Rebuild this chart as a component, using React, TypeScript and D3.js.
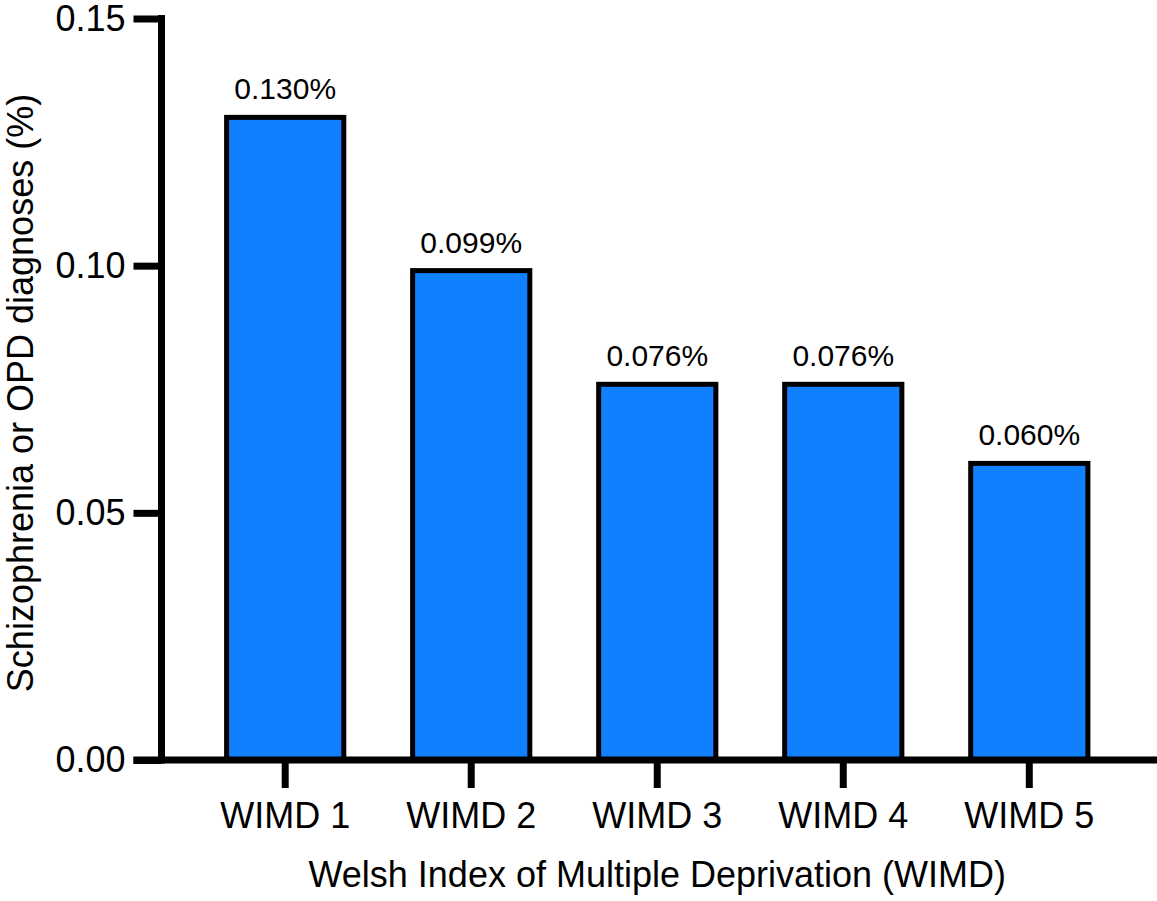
import React, { useEffect, useRef } from 'react';
import * as d3 from 'd3';

const categories = ['WIMD 1', 'WIMD 2', 'WIMD 3', 'WIMD 4', 'WIMD 5'];
const values = [0.130, 0.099, 0.076, 0.076, 0.060];
const valueLabels = ['0.130%', '0.099%', '0.076%', '0.076%', '0.060%'];
const yTicks = [0, 0.05, 0.1, 0.15];

const App: React.FC = () => {
  const svgRef = useRef<SVGSVGElement>(null);

  useEffect(() => {
    const width = 1157;
    const height = 901;
    const font = '"Liberation Sans", Arial, Helvetica, sans-serif';
    const axisX = 161.5;
    const axisY = 760;

    d3.select(svgRef.current).selectAll('*').remove();

    const svg = d3.select(svgRef.current)
      .attr('width', width)
      .attr('height', height)
      .style('font-family', font);

    const x = d3.scaleBand<string>()
      .domain(categories)
      .range([axisX, 1153])
      .paddingInner(0.37)
      .paddingOuter(0.35)
      .align(0.5);

    const y = d3.scaleLinear()
      .domain([0, 0.15])
      .range([axisY, 18.5]);

    // Bars
    svg.selectAll('.bar')
      .data(values)
      .enter()
      .append('rect')
      .attr('class', 'bar')
      .attr('x', (_, i) => x(categories[i]) as number)
      .attr('y', d => y(d))
      .attr('width', x.bandwidth())
      .attr('height', d => axisY - y(d))
      .attr('fill', '#1180FE')
      .attr('stroke', '#000')
      .attr('stroke-width', 5);

    // Value labels
    svg.selectAll('.val')
      .data(values)
      .enter()
      .append('text')
      .attr('class', 'val')
      .attr('x', (_, i) => (x(categories[i]) as number) + x.bandwidth() / 2)
      .attr('y', d => y(d) - 18)
      .attr('text-anchor', 'middle')
      .style('font-size', '30px')
      .style('fill', '#000')
      .text((_, i) => valueLabels[i]);

    // Y axis
    const yAxis = svg.append('g')
      .attr('transform', `translate(${axisX},0)`)
      .call(
        d3.axisLeft(y)
          .tickValues(yTicks)
          .tickFormat(d3.format('.2f'))
          .tickSize(28)
          .tickPadding(8)
      );
    yAxis.select('.domain').remove();
    yAxis.selectAll('line').attr('stroke', '#000').attr('stroke-width', 7);
    yAxis.selectAll('text')
      .style('font-size', '36px')
      .style('font-family', font)
      .attr('fill', '#000');

    // X axis
    const xAxis = svg.append('g')
      .attr('transform', `translate(0,${axisY})`)
      .call(d3.axisBottom(x).tickSize(28).tickPadding(14));
    xAxis.select('.domain').remove();
    xAxis.selectAll('line').attr('stroke', '#000').attr('stroke-width', 7);
    xAxis.selectAll('text')
      .style('font-size', '36px')
      .style('font-family', font)
      .attr('fill', '#000');

    // Axis lines
    svg.append('line')
      .attr('x1', axisX).attr('x2', axisX)
      .attr('y1', 15).attr('y2', axisY + 3.5)
      .attr('stroke', '#000')
      .attr('stroke-width', 7);

    svg.append('line')
      .attr('x1', axisX - 28).attr('x2', width)
      .attr('y1', axisY).attr('y2', axisY)
      .attr('stroke', '#000')
      .attr('stroke-width', 7);

    // Axis titles
    svg.append('text')
      .attr('transform', 'rotate(-90)')
      .attr('x', -393)
      .attr('y', 33)
      .attr('text-anchor', 'middle')
      .style('font-size', '36px')
      .style('fill', '#000')
      .text('Schizophrenia or OPD diagnoses (%)');

    svg.append('text')
      .attr('x', x('WIMD 3')! + x.bandwidth() / 2)
      .attr('y', 887)
      .attr('text-anchor', 'middle')
      .style('font-size', '36px')
      .style('fill', '#000')
      .text('Welsh Index of Multiple Deprivation (WIMD)');
  }, []);

  return (
    <div style={{ position: 'absolute', left: 0, top: 0, background: '#fff' }}>
      <svg ref={svgRef} style={{ display: 'block' }}></svg>
    </div>
  );
};

export default App;
